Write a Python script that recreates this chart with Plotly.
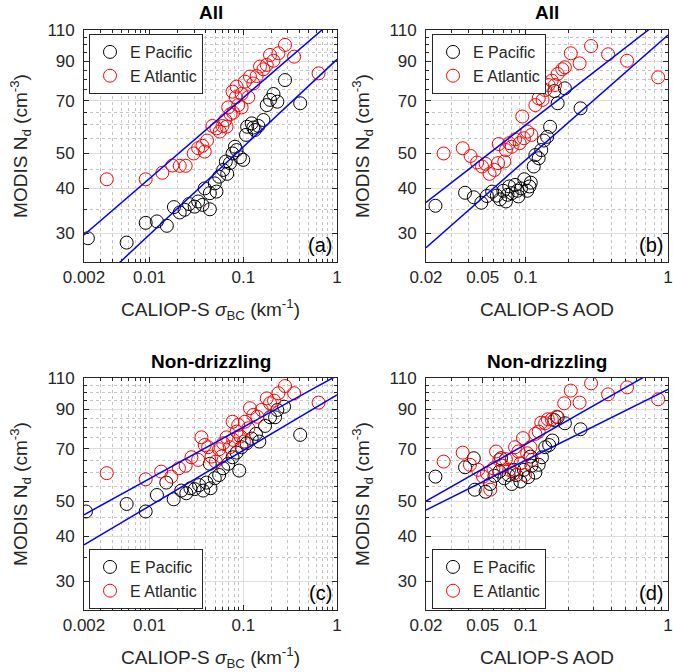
import math
import plotly.graph_objects as go

# ---------------- data ----------------
# Panel (a): All, x = CALIOP-S sigma_BC (km^-1)
a_pac_x = [0.0022, 0.0057, 0.0091, 0.012, 0.0153, 0.0182, 0.021, 0.0237, 0.0264, 0.0303, 0.033, 0.0367,
           0.044, 0.0388, 0.044, 0.0497, 0.0518, 0.0553, 0.0611, 0.0674, 0.0652, 0.072, 0.0769, 0.0849,
           0.0921, 0.0815, 0.1, 0.107, 0.11, 0.123, 0.133, 0.145, 0.164, 0.178, 0.193, 0.21, 0.231,
           0.279, 0.405, 0.128]
a_pac_y = [29.1, 28.3, 32.1, 32.4, 31.5, 35.5, 34.3, 34.9, 36.2, 35.6, 36.8, 36.0,
           35.0, 40.0, 38.8, 41.3, 39.2, 43.1, 45.0, 43.9, 47.5, 47.0, 50.0, 51.1,
           48.8, 52.2, 48.0, 56.3, 59.3, 60.6, 58.1, 59.6, 61.9, 68.1, 70.4, 73.1, 69.6,
           79.9, 68.9, 59.0]
a_atl_x = [0.0035, 0.0091, 0.0137, 0.0175, 0.021, 0.0243, 0.0296, 0.033, 0.0367, 0.0388, 0.0411,
           0.0469, 0.0518, 0.0562, 0.060, 0.0641, 0.0663, 0.0691, 0.0732, 0.0781, 0.0769, 0.0834,
           0.0884, 0.096, 0.0849, 0.096, 0.1042, 0.1131, 0.1179, 0.128, 0.139, 0.151, 0.164, 0.178,
           0.193, 0.21, 0.237, 0.279, 0.349, 0.636]
a_atl_y = [42.4, 42.4, 44.2, 46.3, 46.2, 46.2, 50.0, 51.7, 52.5, 50.6, 54.3,
           59.6, 58.7, 57.5, 59.6, 61.9, 59.3, 67.1, 64.3, 64.9, 74.2, 71.6,
           68.1, 67.1, 76.6, 73.1, 79.1, 71.6, 81.7, 78.2, 82.0, 87.1, 85.6, 88.0,
           93.8, 90.4, 94.8, 100.0, 92.8, 83.4]

# Panel (b): All, x = CALIOP-S AOD
b_pac_x = [0.0233, 0.0376, 0.0433, 0.0489, 0.0535, 0.0583, 0.0628, 0.0662, 0.0698, 0.0728, 0.0768,
           0.080, 0.0844, 0.089, 0.0929, 0.0979, 0.1027, 0.1088, 0.1141, 0.1172, 0.1236, 0.1289,
           0.1345, 0.1418, 0.1487, 0.168, 0.1593, 0.1888, 0.2433, 0.0876, 0.0747, 0.1066]
b_pac_y = [35.8, 38.9, 37.8, 36.5, 38.1, 39.2, 38.2, 37.3, 39.4, 36.8, 40.5,
           38.8, 40.9, 38.0, 40.0, 42.4, 39.4, 41.5, 46.0, 49.5, 48.5, 51.1,
           54.3, 55.6, 59.3, 68.9, 74.5, 75.8, 66.7, 39.4, 38.4, 40.5]
b_atl_x = [0.0266, 0.0362, 0.0411, 0.0457, 0.0495, 0.0524, 0.0559, 0.0605, 0.0641, 0.0648, 0.0709,
           0.0728, 0.0768, 0.080, 0.0844, 0.0909, 0.0974, 0.1027, 0.11, 0.0948, 0.1172, 0.1236,
           0.1317, 0.1374, 0.1449, 0.1527, 0.161, 0.168, 0.181, 0.1888, 0.2076, 0.2395, 0.2884,
           0.3796, 0.5161, 0.8531]
b_atl_y = [50.0, 51.7, 49.2, 47.2, 46.0, 46.8, 43.9, 45.0, 47.0, 53.1, 47.5,
           51.1, 53.4, 52.2, 54.7, 53.4, 55.1, 57.5, 56.3, 63.3, 68.1, 71.1,
           70.4, 75.0, 77.4, 79.6, 77.4, 83.1, 85.6, 86.7, 94.8, 88.9, 99.3,
           94.2, 90.4, 81.3]

# Panel (c): Non-drizzling, x = CALIOP-S sigma_BC
c_pac_x = [0.0021, 0.0057, 0.0091, 0.012, 0.0151, 0.0181, 0.0218, 0.0247, 0.0273, 0.0303, 0.0338,
           0.0373, 0.0405, 0.0447, 0.0497, 0.0553, 0.0611, 0.0691, 0.044, 0.0769, 0.0849, 0.0906,
           0.096, 0.1086, 0.123, 0.1367, 0.1484, 0.1707, 0.193, 0.2184, 0.231, 0.2727, 0.405]
c_pac_y = [46.9, 49.2, 46.9, 52.1, 56.4, 50.7, 53.6, 52.7, 54.4, 54.1, 55.5,
           53.6, 56.4, 54.4, 58.0, 59.2, 61.8, 63.6, 63.6, 66.3, 68.3, 60.9,
           70.7, 72.5, 74.7, 77.0, 73.3, 81.0, 85.6, 85.6, 89.7, 91.6, 76.5]
c_atl_x = [0.0035, 0.0091, 0.0133, 0.0171, 0.0206, 0.0243, 0.028, 0.033, 0.0358, 0.0388, 0.0422,
           0.0458, 0.0509, 0.0553, 0.0611, 0.0663, 0.072, 0.0781, 0.0849, 0.0936, 0.1017, 0.0769,
           0.0884, 0.1042, 0.1179, 0.128, 0.1413, 0.1572, 0.178, 0.193, 0.2131, 0.237, 0.279,
           0.349, 0.636, 0.1131, 0.0586]
c_atl_y = [59.9, 57.6, 60.5, 58.6, 61.8, 62.8, 66.3, 65.2, 75.3, 71.7, 70.7,
           66.6, 64.5, 69.8, 72.5, 75.3, 70.7, 74.1, 78.1, 75.7, 73.3, 83.2,
           81.5, 83.2, 90.7, 86.9, 85.9, 89.7, 96.6, 93.6, 95.2, 99.8, 104.5,
           99.8, 94.0, 79.8, 66.6]

# Panel (d): Non-drizzling, x = CALIOP-S AOD
d_pac_x = [0.0233, 0.0376, 0.0433, 0.044, 0.0524, 0.0565, 0.0605, 0.0655, 0.0673, 0.0709, 0.076,
           0.080, 0.0862, 0.0919, 0.0974, 0.1043, 0.110, 0.1172, 0.1236, 0.1303, 0.1374, 0.1464,
           0.1543, 0.1593, 0.168, 0.1888, 0.2433, 0.0831, 0.1083]
d_pac_y = [58.6, 62.2, 65.9, 53.9, 53.2, 55.9, 58.9, 60.5, 65.9, 58.0, 59.2,
           55.9, 59.2, 56.8, 61.2, 58.4, 62.8, 60.1, 63.2, 66.3, 70.7, 71.7,
           73.8, 84.1, 85.6, 82.4, 79.3, 61.2, 66.6]
d_atl_x = [0.0266, 0.0362, 0.0407, 0.0464, 0.0503, 0.0535, 0.0565, 0.0621, 0.0655, 0.069, 0.0728,
           0.0768, 0.080, 0.0844, 0.089, 0.0924, 0.0959, 0.0989, 0.1027, 0.1083, 0.1112, 0.1172,
           0.1236, 0.1289, 0.1374, 0.1434, 0.1527, 0.1654, 0.1868, 0.2076, 0.2395, 0.2884, 0.3796,
           0.5161, 0.8531, 0.0595, 0.0831]
d_atl_y = [64.5, 68.3, 63.2, 61.2, 58.6, 59.9, 53.9, 68.8, 65.2, 62.8, 65.5,
           61.2, 65.2, 70.7, 68.8, 63.8, 74.9, 59.2, 68.0, 70.7, 65.2, 77.0,
           78.1, 82.7, 82.4, 84.5, 84.5, 85.9, 93.6, 101.5, 94.0, 106.3, 99.1,
           103.6, 96.0, 61.8, 59.9]

# power-law fit lines  Nd = coef * x ** expo
fit_coef = {"a": (91.2, 119.5), "b": (106.5, 121.3), "c": (98.7, 111.7), "d": (102.3, 120.8)}
fit_expo = {"a": (0.243, 0.224), "b": (0.347, 0.3065), "c": (0.154, 0.143), "d": (0.197, 0.225)}

series_names = ["E Pacific", "E Atlantic"]
bc_ticks = [0.002, 0.01, 0.1, 1]
bc_ticktext = ["0.002", "0.01", "0.1", "1"]
aod_ticks = [0.02, 0.05, 0.1, 1]
aod_ticktext = ["0.02", "0.05", "0.1", "1"]
y_ticks = [30, 40, 50, 70, 90, 110]
bc_range = (0.002, 1.0)
aod_range = (0.02, 1.0)
y_range = (25, 110)
panel_titles = ["All", "All", "Non-drizzling", "Non-drizzling"]
panel_tags = ["(a)", "(b)", "(c)", "(d)"]

# ---------------- figure ----------------
W, H = 673, 672
FONT = "Liberation Sans, Arial, Helvetica, sans-serif"
TXT = "#262626"
fig = go.Figure()

panels = [
    ("a", a_pac_x, a_pac_y, a_atl_x, a_atl_y, bc_range),
    ("b", b_pac_x, b_pac_y, b_atl_x, b_atl_y, aod_range),
    ("c", c_pac_x, c_pac_y, c_atl_x, c_atl_y, bc_range),
    ("d", d_pac_x, d_pac_y, d_atl_x, d_atl_y, aod_range),
]
legend_ids = ["legend", "legend2", "legend3", "legend4"]

for i, (key, px_, py_, ax_, ay_, xr) in enumerate(panels):
    sfx = "" if i == 0 else str(i + 1)
    xa, ya = "x" + sfx, "y" + sfx
    fig.add_trace(go.Scatter(x=px_, y=py_, mode="markers", name=series_names[0],
                             marker=dict(symbol="circle-open", size=13, color="black",
                                         line=dict(width=1, color="black")),
                             xaxis=xa, yaxis=ya, legend=legend_ids[i]))
    fig.add_trace(go.Scatter(x=ax_, y=ay_, mode="markers", name=series_names[1],
                             marker=dict(symbol="circle-open", size=13, color="red",
                                         line=dict(width=1, color="red")),
                             xaxis=xa, yaxis=ya, legend=legend_ids[i]))
    for c, e in zip(fit_coef[key], fit_expo[key]):
        xs = [xr[0], xr[1]]
        fig.add_trace(go.Scatter(x=xs, y=[c * v ** e for v in xs], mode="lines",
                                 line=dict(color="#0000ff", width=1.5), showlegend=False,
                                 hoverinfo="skip", xaxis=xa, yaxis=ya))

# geometry in pixels
xdom = [(84, 337), (426, 668), (84, 337), (426, 668)]
ydom = [(30, 262), (30, 262), (378, 610), (378, 610)]


def px2x(p):
    return p / W


def px2y(p):
    return 1 - p / H


grid_major = "#dedede"
grid_minor = "#c4c4c4"
axis_col = "#262626"

bc_minor = [m * 10 ** k for k in (-3, -2, -1) for m in range(2, 10) if m * 10 ** k > 0.0021]
aod_minor = [m * 10 ** k for k in (-2, -1) for m in range(2, 10)
             if m * 10 ** k > 0.021 and abs(m * 10 ** k - 0.05) > 1e-9]
y_minor = [25, 35, 45, 55, 60, 65, 75, 80, 85, 95, 100, 105]

layout = dict(width=W, height=H, margin=dict(l=0, r=0, t=0, b=0),
              paper_bgcolor="white", plot_bgcolor="white",
              font=dict(family=FONT, size=17, color=TXT))

for i in range(4):
    sfx = "" if i == 0 else str(i + 1)
    is_bc = i in (0, 2)
    xr = bc_range if is_bc else aod_range
    x_title = "CALIOP-S <i>σ</i><sub>BC</sub> (km<sup>-1</sup>)" if is_bc else "CALIOP-S AOD"
    layout["xaxis" + sfx] = dict(
        type="log", domain=[px2x(xdom[i][0]), px2x(xdom[i][1])],
        range=[math.log10(xr[0]), math.log10(xr[1])],
        anchor="y" + sfx,
        tickmode="array", tickvals=bc_ticks if is_bc else aod_ticks,
        ticktext=bc_ticktext if is_bc else aod_ticktext,
        ticks="inside", ticklen=5, tickcolor=axis_col, tickfont=dict(size=17, color=TXT),
        ticklabeloverflow="allow",
        showline=True, linecolor=axis_col, linewidth=1, mirror="ticks",
        showgrid=True, gridcolor=grid_major, gridwidth=1,
        minor=dict(tickmode="array", tickvals=bc_minor if is_bc else aod_minor,
                   showgrid=True, gridcolor=grid_minor, griddash="dot", gridwidth=1,
                   ticks="inside", ticklen=3, tickcolor=axis_col),
        zeroline=False,
        title=dict(text=x_title, font=dict(size=19, color=TXT), standoff=16),
        automargin=False,
    )
    layout["yaxis" + sfx] = dict(
        type="log", domain=[px2y(ydom[i][1]), px2y(ydom[i][0])],
        range=[math.log10(y_range[0]), math.log10(y_range[1])],
        anchor="x" + sfx,
        tickmode="array", tickvals=y_ticks, ticktext=[str(v) for v in y_ticks],
        ticks="inside", ticklen=5, tickcolor=axis_col, tickfont=dict(size=17, color=TXT),
        ticklabelstandoff=5, ticklabeloverflow="allow",
        showline=True, linecolor=axis_col, linewidth=1, mirror="ticks",
        showgrid=True, gridcolor=grid_major, gridwidth=1,
        minor=dict(tickmode="array", tickvals=y_minor,
                   showgrid=True, gridcolor=grid_minor, griddash="dot", gridwidth=1,
                   ticks="inside", ticklen=3, tickcolor=axis_col),
        zeroline=False,
        title=dict(text="MODIS N<sub>d</sub> (cm<sup>-3</sup>)", font=dict(size=19, color=TXT),
                   standoff=14),
        automargin=False,
    )

leg_common = dict(font=dict(size=16, family=FONT, color=TXT), bgcolor="white",
                  bordercolor=TXT, borderwidth=1, xanchor="left", tracegroupgap=0,
                  itemsizing="trace")
layout["legend"] = dict(x=px2x(89), y=px2y(34), yanchor="top", **leg_common)
layout["legend2"] = dict(x=px2x(432), y=px2y(34), yanchor="top", **leg_common)
layout["legend3"] = dict(x=px2x(89), y=px2y(609), yanchor="bottom", **leg_common)
layout["legend4"] = dict(x=px2x(432), y=px2y(609), yanchor="bottom", **leg_common)

annotations = []
for i in range(4):
    cx = (xdom[i][0] + xdom[i][1]) / 2
    ty = 12 if i < 2 else 361
    annotations.append(dict(text="<b>%s</b>" % panel_titles[i], x=px2x(cx), y=px2y(ty),
                            xref="paper", yref="paper", xanchor="center", yanchor="middle",
                            showarrow=False, font=dict(size=19, family=FONT, color="black")))
    annotations.append(dict(text=panel_tags[i], x=px2x(xdom[i][1] - 3), y=px2y(ydom[i][1] - 17),
                            xref="paper", yref="paper", xanchor="right", yanchor="middle",
                            showarrow=False, font=dict(size=20, family=FONT, color="black")))
layout["annotations"] = annotations

fig.update_layout(**layout)
fig.write_html("out.html", config={"displayModeBar": False},
               post_script="document.body.style.margin='0px';document.body.style.overflow='hidden';")
